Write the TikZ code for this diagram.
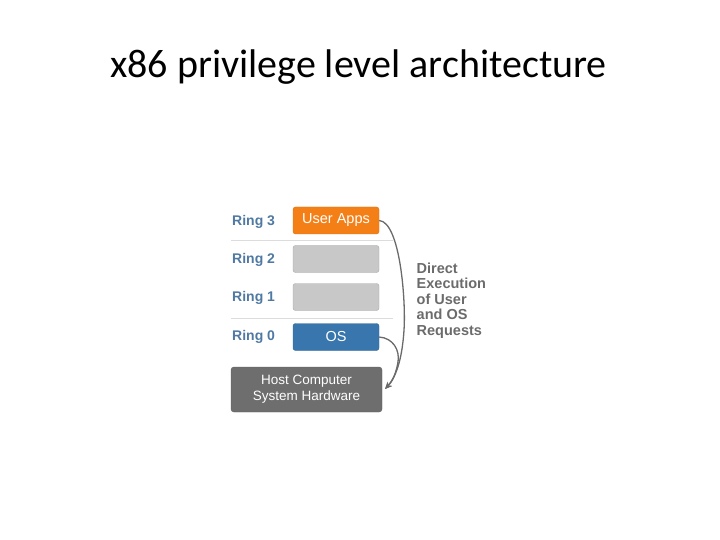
\documentclass[tikz,border=0pt]{standalone}
\usepackage{fontspec}
\setmainfont{Liberation Sans}
\newfontfamily\titlefont{Carlito}
\usetikzlibrary{arrows.meta}
\definecolor{ringblue}{HTML}{4F79A3}
\definecolor{apporange}{HTML}{F57F17}
\definecolor{osblue}{HTML}{3A76AE}
\definecolor{boxgray}{HTML}{C8C8C8}
\definecolor{boxedge}{HTML}{A8A8A8}
\definecolor{hwgray}{HTML}{6E6E6E}
\definecolor{arrgray}{HTML}{6A6A6A}
\definecolor{sepgray}{HTML}{DCDCDC}
\definecolor{txtgray}{HTML}{6B6B6B}
\begin{document}
\begin{tikzpicture}[x=1bp,y=-1bp,
  ringlabel/.style={font=\fontsize{14bp}{16bp}\selectfont\bfseries, text=ringblue, anchor=west, inner sep=0},
  ringbox/.style={rounded corners=2.5bp, minimum width=86bp, minimum height=27bp, inner sep=0, font=\fontsize{14.5bp}{16bp}\selectfont, text=white},
  conn/.style={draw=arrgray, line width=1.3bp, -{Stealth[length=7bp,width=6bp]}}
]
\useasboundingbox (0,0) rectangle (720,540);
\node[font=\titlefont\fontsize{40bp}{44bp}\selectfont, text=black, anchor=base, inner sep=0] (title) at (358.5,78) {x86 privilege level architecture};

\node[ringbox, fill=apporange, draw=apporange!90!black] (apps) at (336,220.5) {User Apps};
\node[ringbox, fill=boxgray, draw=boxedge] (r2) at (336,259) {};
\node[ringbox, fill=boxgray, draw=boxedge] (r1) at (336,297) {};
\node[ringbox, fill=osblue, draw=osblue!85!black] (os) at (336,337) {OS};
\node[rounded corners=3bp, fill=hwgray, draw=hwgray!85!black, minimum width=151bp, minimum height=45bp, inner sep=0, align=center, text=white, font=\fontsize{13.5bp}{16bp}\selectfont] (hw) at (306.5,389.5) {Host Computer\\System Hardware};

\node[ringlabel] (l3) at (232,222) {Ring 3};
\node[ringlabel] (l2) at (232,260) {Ring 2};
\node[ringlabel] (l1) at (232,298) {Ring 1};
\node[ringlabel] (l0) at (232,337) {Ring 0};

\coordinate (s1a) at (231,240.5);
\coordinate (s1b) at (393,240.5);
\coordinate (s2a) at (231,318);
\coordinate (s2b) at (393,318);
\draw[sepgray, line width=0.8bp] (s1a) -- (s1b);
\draw[sepgray, line width=0.8bp] (s2a) -- (s2b);

\coordinate (tip) at (385,389);
\draw[conn] (apps.east) .. controls (400,222) and (406,300) .. (404,330) .. controls (402,362) and (395,378) .. (tip);
\draw[conn] (os.east) .. controls (393,338) and (400,350) .. (398,362) .. controls (396,374) and (392,382) .. (tip);

\node[anchor=base west, align=left, inner sep=0, text=txtgray, font=\fontsize{14.5bp}{15.4bp}\selectfont\bfseries] (desc) at (416.5,335) {Direct\\Execution\\of User\\and OS\\Requests};
\end{tikzpicture}
\end{document}
